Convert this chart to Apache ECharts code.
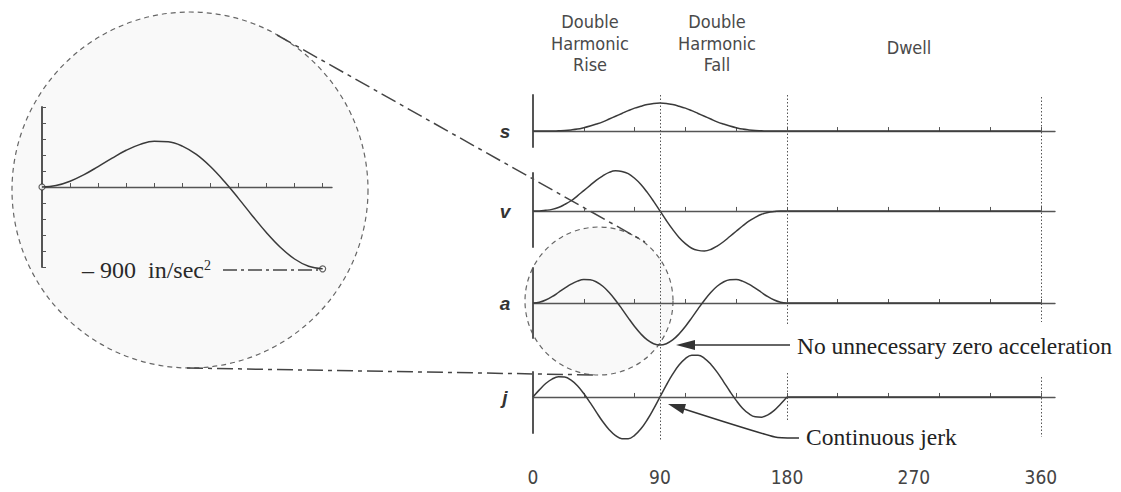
<!DOCTYPE html>
<html lang="en">
<head>
<meta charset="UTF-8">
<title>Double harmonic rise / fall</title>
<script src="https://cdn.jsdelivr.net/npm/echarts@6/dist/echarts.min.js"></script>
<style>
body{ margin:0; background:#fff; }
#chart{ width:1121px; height:492px; }
</style>
</head>
<body>
<div id="chart"></div>
<script>
// cam angle (deg), rise 0-90, fall 90-180, then dwell to 360
var deg = [0, 4.5, 9, 13.5, 18, 22.5, 27, 31.5, 36, 40.5, 45, 49.5, 54, 58.5, 63, 67.5, 72, 76.5, 81, 85.5,
           90, 94.5, 99, 103.5, 108, 112.5, 117, 121.5, 126, 130.5, 135, 139.5, 144, 148.5, 153, 157.5, 162, 166.5, 171, 175.5, 180];
var dwellDeg = [180, 360];
var dwellVal = [0, 0];

// displacement (h = 1), velocity, acceleration (in/sec^2), jerk
var sVal = [0, 0.00, 0.00, 0.00, 0.01, 0.02, 0.04, 0.07, 0.12, 0.18, 0.25, 0.33, 0.43, 0.53, 0.63, 0.73, 0.82, 0.89, 0.95, 0.99,
            1.00, 0.99, 0.95, 0.89, 0.82, 0.73, 0.63, 0.53, 0.43, 0.33, 0.25, 0.18, 0.12, 0.07, 0.04, 0.02, 0.01, 0.00, 0.00, 0.00, 0];
var vVal = [0, 0.00, 0.02, 0.05, 0.11, 0.21, 0.33, 0.49, 0.66, 0.83, 1.00, 1.14, 1.25, 1.30, 1.28, 1.21, 1.06, 0.86, 0.60, 0.31,
            0, -0.31, -0.60, -0.86, -1.06, -1.21, -1.28, -1.30, -1.25, -1.14, -1.00, -0.83, -0.66, -0.49, -0.33, -0.21, -0.11, -0.05, -0.02, 0.00, 0];
var aVal = [0, 16, 64, 136, 225, 318, 404, 469, 503, 498, 450, 358, 225, 60, -125, -318, -503, -665, -792, -872,
            -900, -872, -792, -665, -503, -318, -125, 60, 225, 358, 450, 498, 503, 469, 404, 318, 225, 136, 64, 16, 0];
var jVal = [0, 0.46, 0.87, 1.16, 1.31, 1.29, 1.09, 0.73, 0.22, -0.37, -1.00, -1.61, -2.13, -2.51, -2.71, -2.71, -2.49, -2.07, -1.48, -0.77,
            0, 0.77, 1.48, 2.07, 2.49, 2.71, 2.71, 2.51, 2.13, 1.61, 1.00, 0.37, -0.22, -0.73, -1.09, -1.29, -1.31, -1.16, -0.87, -0.46, 0];

var tickDegrees = [0, 36, 72, 108, 144, 180, 216, 252, 288, 324, 360];
var degreeLabels = [0, 90, 180, 270, 360];
var zoomTicks = [0, 9, 18, 27, 36, 45, 54, 63, 72, 81, 90];
var rowNames = ['s', 'v', 'a', 'j'];
var phaseNames = ['Double\nHarmonic\nRise', 'Double\nHarmonic\nFall', 'Dwell'];

var ink = '#3a3a3a';
var axisInk = '#555';
var narrow = "'Liberation Sans Narrow', 'DejaVu Sans Condensed', sans-serif";
var serif = "'Liberation Serif', 'DejaVu Serif', serif";

function pairs(xs, ys){
    return xs.map(function(x, i){ return [x, ys[i]]; });
}

// row layout: grid top/height and y range so the zero line lands right
var rows = [
    { data: sVal, top: 95,  height: 52, min: -0.57, max: 1.29 },
    { data: vVal, top: 173, height: 74, min: -1.17, max: 1.23 },
    { data: aVal, top: 268, height: 70, min: -750,  max: 750 },
    { data: jVal, top: 372, height: 61, min: -2.34, max: 1.62 }
];

var grid = [], xAxis = [], yAxis = [], series = [];

// magnified acceleration plot inside the big circle (grid 0), rise part only
var zoomN = 21;
grid.push({ left: 42, top: 107, width: 290, height: 160 });
xAxis.push({
    type: 'value', gridIndex: 0, min: 0, max: 93,
    axisLine: { onZero: true, lineStyle: { color: axisInk, width: 1.4 } },
    axisTick: { customValues: zoomTicks, inside: true, length: 4, lineStyle: { color: axisInk } },
    axisLabel: { show: false }, splitLine: { show: false }
});
yAxis.push({
    type: 'value', gridIndex: 0, min: -880, max: 880, interval: 176,
    axisLine: { show: true, lineStyle: { color: axisInk, width: 2 } },
    axisTick: { show: true, inside: true, length: 4, lineStyle: { color: axisInk } },
    axisLabel: { show: false }, splitLine: { show: false }
});
series.push({
    type: 'line', xAxisIndex: 0, yAxisIndex: 0, smooth: 0.4, symbol: 'none', clip: false,
    lineStyle: { color: ink, width: 1.5 },
    data: pairs(deg.slice(0, zoomN), aVal.slice(0, zoomN)),
    markLine: {
        silent: true, symbol: 'none', label: { show: false },
        lineStyle: { color: axisInk, type: [1.5, 2], width: 1 },
        data: [[{ coord: [90, 880] }, { coord: [90, aVal[zoomN - 1]] }]]
    }
});
series.push({
    type: 'scatter', xAxisIndex: 0, yAxisIndex: 0, symbol: 'circle', symbolSize: 6, clip: false,
    itemStyle: { color: '#fff', borderColor: ink, borderWidth: 1.2 },
    data: [[deg[0], aVal[0]], [deg[zoomN - 1], aVal[zoomN - 1]]]
});

// the four motion rows (grids 1-4)
rows.forEach(function(r, i){
    var gi = i + 1;
    grid.push({ left: 533, width: 522, top: r.top, height: r.height });
    xAxis.push({
        type: 'value', gridIndex: gi, min: 0, max: 370,
        axisLine: { onZero: true, lineStyle: { color: axisInk, width: 1.4 } },
        axisTick: { customValues: tickDegrees, inside: true, length: 4, lineStyle: { color: axisInk } },
        axisLabel: { show: false }, splitLine: { show: false }
    });
    yAxis.push({
        type: 'value', gridIndex: gi, min: r.min, max: r.max,
        axisLine: { show: true, lineStyle: { color: axisInk, width: 2 } },
        axisTick: { show: false }, axisLabel: { show: false }, splitLine: { show: false }
    });
    series.push({
        type: 'line', xAxisIndex: gi, yAxisIndex: gi, smooth: 0.4, symbol: 'none', clip: false,
        lineStyle: { color: ink, width: 1.5 },
        data: pairs(deg, r.data)
    });
    series.push({
        type: 'line', xAxisIndex: gi, yAxisIndex: gi, symbol: 'none',
        lineStyle: { color: ink, width: 1.4 },
        data: pairs(dwellDeg, dwellVal)
    });
});

// overlay grid (5): dotted phase boundaries and the degree labels
grid.push({ left: 533, width: 522, top: 95, height: 350 });
xAxis.push({
    type: 'value', gridIndex: 5, min: 0, max: 370, position: 'bottom',
    axisLine: { show: false }, axisTick: { show: false }, splitLine: { show: false },
    axisLabel: {
        customValues: degreeLabels, margin: 22,
        fontFamily: narrow, fontSize: 19, color: '#444'
    }
});
yAxis.push({ type: 'value', gridIndex: 5, min: 0, max: 350, inverse: true, show: false });
series.push({
    type: 'line', xAxisIndex: 5, yAxisIndex: 5, data: [], symbol: 'none',
    markLine: {
        silent: true, symbol: 'none', label: { show: false },
        lineStyle: { color: axisInk, type: [1.5, 2], width: 1 },
        data: [
            [{ coord: [90, 0] },  { coord: [90, 346] }],
            [{ coord: [180, 0] }, { coord: [180, 231] }],
            [{ coord: [180, 278] }, { coord: [180, 325] }],
            [{ coord: [360, 2] }, { coord: [360, 227] }],
            [{ coord: [360, 282] }, { coord: [360, 342] }]
        ]
    }
});

var graphic = [
    // magnifier circles and the connecting dash-dot lines
    { type: 'circle', z: 0, shape: { cx: 190, cy: 190, r: 178 },
      style: { fill: 'rgba(0,0,0,0.025)', stroke: '#666', lineWidth: 1.2, lineDash: [5, 4] } },
    { type: 'circle', z: 0, shape: { cx: 599, cy: 301, r: 74 },
      style: { fill: 'rgba(0,0,0,0.025)', stroke: '#666', lineWidth: 1.2, lineDash: [5, 4] } },
    { type: 'line', z: 0, shape: { x1: 277, y1: 35, x2: 645, y2: 242 },
      style: { stroke: '#444', lineWidth: 1.5, lineDash: [16, 5, 4, 5] } },
    { type: 'line', z: 0, shape: { x1: 187, y1: 368, x2: 598, y2: 375 },
      style: { stroke: '#444', lineWidth: 1.5, lineDash: [16, 5, 4, 5] } },

    // -900 in/sec^2 callout
    { type: 'text', x: 82, y: 270,
      style: { text: '{m|\u2013 900  in/sec}{p|2}', verticalAlign: 'middle', fill: '#2a2a2a',
               rich: { m: { fontFamily: serif, fontSize: 24, fill: '#2a2a2a' },
                       p: { fontFamily: serif, fontSize: 14, fill: '#2a2a2a', verticalAlign: 'top' } } } },
    { type: 'line', shape: { x1: 223, y1: 270, x2: 318, y2: 270 },
      style: { stroke: '#444', lineWidth: 1.3, lineDash: [14, 4, 3, 4] } },

    // annotations with arrows
    { type: 'text', x: 797, y: 346,
      style: { text: 'No unnecessary zero acceleration', font: '23.5px ' + serif, fill: '#222', verticalAlign: 'middle' } },
    { type: 'line', shape: { x1: 790, y1: 345, x2: 690, y2: 345 }, style: { stroke: '#333', lineWidth: 1.5 } },
    { type: 'polygon', shape: { points: [[676, 345], [695, 340], [695, 350]] }, style: { fill: '#333' } },

    { type: 'text', x: 806, y: 437,
      style: { text: 'Continuous jerk', font: '23.5px ' + serif, fill: '#222', verticalAlign: 'middle' } },
    { type: 'polyline', shape: { points: [[799, 438], [775, 437], [684, 409]], smooth: 0.2 },
      style: { stroke: '#333', lineWidth: 1.5, fill: null } },
    { type: 'polygon', shape: { points: [[668, 404], [686, 404], [683, 414]] }, style: { fill: '#333' } }
];

// phase headers
[590, 717, 909].forEach(function(x, i){
    graphic.push({ type: 'text', x: x, y: i < 2 ? 43 : 47,
        style: { text: phaseNames[i], fontFamily: narrow, fontSize: 18, lineHeight: 21.5,
                 fill: '#4a4a4a', align: 'center', verticalAlign: 'middle' } });
});

// row letters, placed at each row's zero line
[131, 211, 303, 397].forEach(function(y, i){
    graphic.push({ type: 'text', x: 505, y: y,
        style: { text: rowNames[i], fontFamily: "'Liberation Sans', sans-serif", fontSize: 19,
                 fontStyle: 'italic', fontWeight: 'bold', fill: '#333', align: 'center', verticalAlign: 'middle' } });
});

var chart = echarts.init(document.getElementById('chart'), null, { renderer: 'svg' });
chart.setOption({
    backgroundColor: '#fff',
    animation: false,
    grid: grid,
    xAxis: xAxis,
    yAxis: yAxis,
    series: series,
    graphic: graphic
});
</script>
</body>
</html>
